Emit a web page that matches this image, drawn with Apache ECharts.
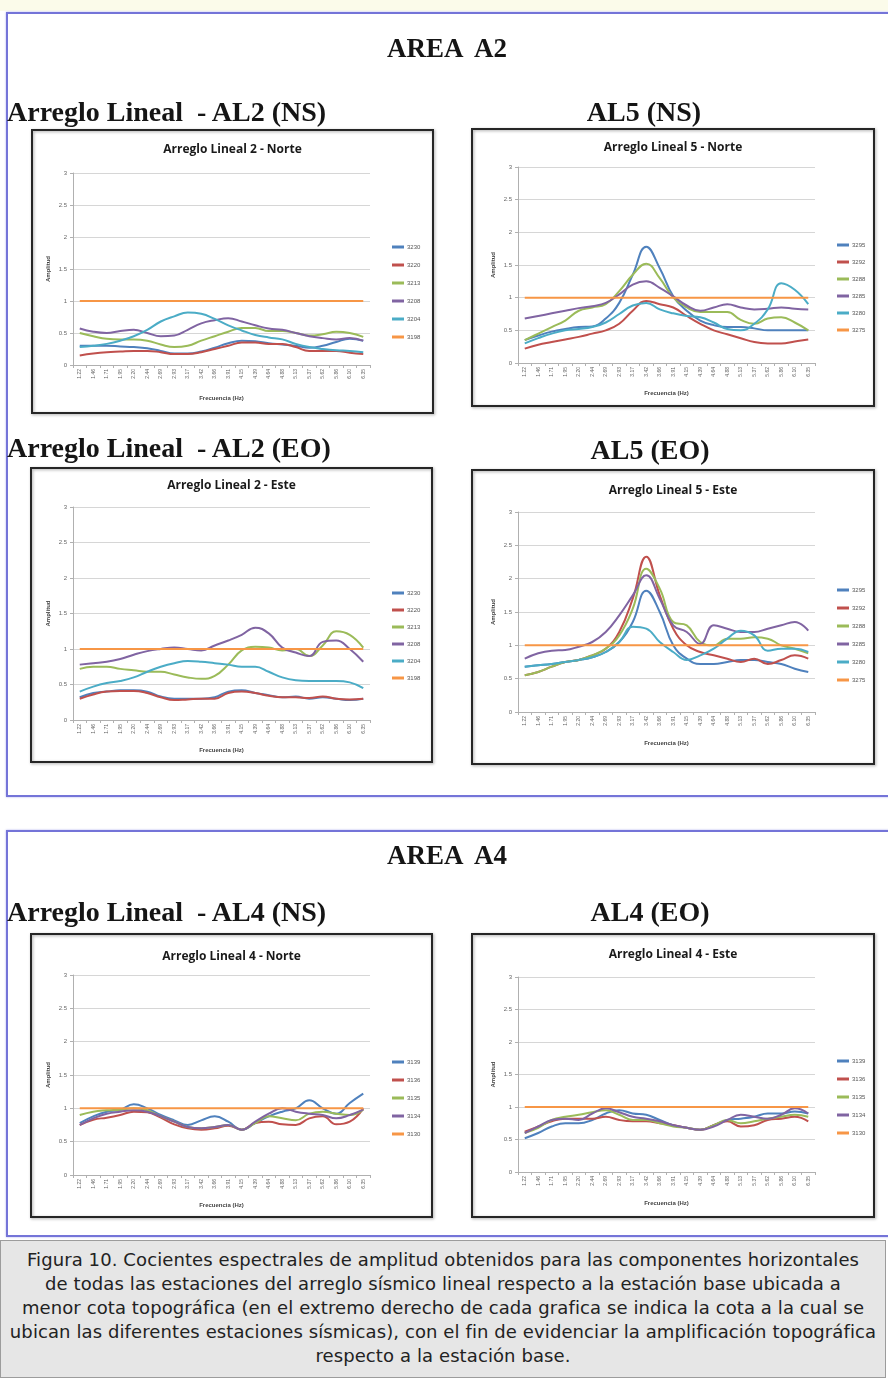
<!DOCTYPE html>
<html><head><meta charset="utf-8">
<script src="https://cdn.jsdelivr.net/npm/echarts@6/dist/echarts.min.js"></script>
<style>
body{margin:0;background:#fff;width:888px;height:1380px;overflow:hidden;position:relative}
#chart{position:absolute;left:0;top:0;width:888px;height:1380px}
.h{position:absolute;font-family:'Liberation Serif','Times New Roman',serif;font-weight:bold;color:#151515;white-space:pre;line-height:1;transform:translate(-50%,-50%)}
.hl{position:absolute;font-family:'Liberation Serif','Times New Roman',serif;font-weight:bold;color:#151515;white-space:pre;line-height:1;transform:translateY(-50%)}
.box{position:absolute;border:2px solid #7474d8;box-shadow:0 0 2px #b0b0ee}
#strip{position:absolute;left:0;top:0;width:888px;height:11px;background:#fbfbea}
#cap{position:absolute;left:0;top:1240px;width:886px;height:138px;background:#e6e6e6;border:1px solid #9c9c9c;font-family:'DejaVu Sans',sans-serif;font-size:18px;letter-spacing:0.1px;color:#222;text-align:center;line-height:24px;padding-top:7px;box-sizing:border-box;white-space:nowrap}
</style></head>
<body>
<div id="strip"></div>
<div class="box" style="left:6px;top:12px;width:900px;height:781px"></div>
<div class="box" style="left:6px;top:830px;width:900px;height:403px"></div>
<div id="chart"></div>
<div class="h" style="left:447px;top:48px;font-size:27px">AREA  A2</div>
<div class="hl" style="left:7px;top:112px;font-size:28px">Arreglo Lineal  - AL2 (NS)</div>
<div class="h" style="left:644px;top:112px;font-size:28px">AL5 (NS)</div>
<div class="hl" style="left:7px;top:448px;font-size:28px">Arreglo Lineal  - AL2 (EO)</div>
<div class="h" style="left:650px;top:450px;font-size:28px">AL5 (EO)</div>
<div class="h" style="left:447px;top:855px;font-size:27px">AREA  A4</div>
<div class="hl" style="left:7px;top:912px;font-size:28px">Arreglo Lineal  - AL4 (NS)</div>
<div class="h" style="left:650px;top:912px;font-size:28px">AL4 (EO)</div>
<div id="cap">Figura 10. Cocientes espectrales de amplitud obtenidos para las componentes horizontales<br>de todas las estaciones del arreglo sísmico lineal respecto a la estación base ubicada a<br>menor cota topográfica (en el extremo derecho de cada grafica se indica la cota a la cual se<br>ubican las diferentes estaciones sísmicas), con el fin de evidenciar la amplificación topográfica<br>respecto a la estación base.</div>
<script>
// ---- data ----
const categories = ['1.22','1.46','1.71','1.95','2.20','2.44','2.69','2.93','3.17','3.42','3.66','3.91','4.15','4.39','4.64','4.88','5.13','5.37','5.62','5.86','6.10','6.35'];
const yTicks = [0, 0.5, 1, 1.5, 2, 2.5, 3];
const colors = ['#4F81BD','#C0504D','#9BBB59','#8064A2','#4BACC6','#F79646'];

const al2Names = ['3230','3220','3213','3208','3204','3198'];
const al5Names = ['3295','3292','3288','3285','3280','3275'];
const al4Names = ['3139','3136','3135','3134','3130'];

// AL2 Norte
const n3230 = [0.30,0.30,0.30,0.29,0.28,0.26,0.22,0.18,0.18,0.21,0.27,0.34,0.38,0.37,0.34,0.32,0.30,0.27,0.30,0.36,0.41,0.38];
const n3220 = [0.15,0.18,0.20,0.21,0.22,0.22,0.20,0.17,0.17,0.20,0.25,0.30,0.35,0.35,0.33,0.33,0.28,0.22,0.22,0.22,0.19,0.17];
const n3213 = [0.50,0.45,0.41,0.40,0.40,0.38,0.32,0.28,0.30,0.38,0.45,0.52,0.58,0.58,0.53,0.53,0.50,0.46,0.48,0.52,0.50,0.44];
const n3208 = [0.57,0.52,0.50,0.53,0.55,0.50,0.45,0.46,0.55,0.65,0.70,0.73,0.68,0.62,0.57,0.55,0.50,0.45,0.42,0.40,0.42,0.38];
const n3204 = [0.28,0.30,0.33,0.38,0.45,0.55,0.68,0.76,0.82,0.80,0.72,0.62,0.54,0.47,0.43,0.40,0.33,0.28,0.25,0.23,0.22,0.20];
const n3198 = [1,1,1,1,1,1,1,1,1,1,1,1,1,1,1,1,1,1,1,1,1,1];

// AL5 Norte
const n3295 = [0.35,0.42,0.48,0.52,0.55,0.56,0.68,0.92,1.35,1.78,1.45,1.02,0.80,0.65,0.58,0.55,0.55,0.53,0.50,0.50,0.50,0.50];
const n3292 = [0.22,0.28,0.32,0.36,0.40,0.45,0.50,0.60,0.80,0.95,0.90,0.85,0.72,0.60,0.50,0.44,0.38,0.32,0.30,0.30,0.33,0.36];
const n3288 = [0.35,0.45,0.55,0.65,0.80,0.85,0.90,1.10,1.35,1.52,1.30,1.00,0.85,0.78,0.78,0.78,0.66,0.60,0.68,0.70,0.62,0.50];
const n3285 = [0.68,0.72,0.76,0.80,0.84,0.87,0.92,1.05,1.20,1.25,1.15,1.02,0.88,0.80,0.85,0.90,0.85,0.82,0.83,0.85,0.83,0.82];
const n3280 = [0.30,0.38,0.45,0.50,0.52,0.55,0.62,0.75,0.88,0.92,0.82,0.76,0.72,0.70,0.62,0.52,0.50,0.60,0.82,1.22,1.12,0.90];
const n3275 = [1,1,1,1,1,1,1,1,1,1,1,1,1,1,1,1,1,1,1,1,1,1];

// AL2 Este
const e3230 = [0.32,0.38,0.40,0.42,0.42,0.40,0.33,0.30,0.30,0.30,0.32,0.40,0.42,0.38,0.35,0.32,0.33,0.30,0.32,0.30,0.28,0.30];
const e3220 = [0.30,0.36,0.40,0.41,0.41,0.38,0.32,0.28,0.29,0.30,0.30,0.38,0.40,0.38,0.34,0.32,0.32,0.31,0.33,0.30,0.29,0.30];
const e3213 = [0.72,0.75,0.75,0.72,0.70,0.68,0.68,0.64,0.60,0.58,0.62,0.78,0.98,1.03,1.02,0.98,1.00,0.90,1.05,1.25,1.20,1.02];
const e3208 = [0.78,0.80,0.82,0.86,0.92,0.97,1.00,1.02,1.00,0.98,1.05,1.12,1.20,1.30,1.22,1.02,0.95,0.90,1.10,1.12,1.00,0.82];
const e3204 = [0.40,0.47,0.52,0.55,0.60,0.68,0.75,0.80,0.83,0.82,0.80,0.78,0.75,0.75,0.68,0.60,0.56,0.55,0.55,0.55,0.53,0.45];
const e3198 = [1,1,1,1,1,1,1,1,1,1,1,1,1,1,1,1,1,1,1,1,1,1];

// AL5 Este
const e3295 = [0.68,0.70,0.72,0.75,0.78,0.82,0.90,1.05,1.35,1.82,1.50,1.00,0.80,0.72,0.72,0.75,0.78,0.78,0.75,0.72,0.65,0.60];
const e3292 = [0.55,0.60,0.68,0.75,0.78,0.85,0.95,1.20,1.70,2.33,1.75,1.25,1.00,0.90,0.85,0.80,0.75,0.80,0.72,0.78,0.85,0.80];
const e3288 = [0.55,0.60,0.68,0.75,0.78,0.85,0.95,1.15,1.55,2.15,1.85,1.35,1.30,1.05,1.00,1.10,1.10,1.12,1.10,1.00,0.95,0.88];
const e3285 = [0.80,0.88,0.92,0.93,0.98,1.05,1.20,1.45,1.75,2.05,1.70,1.30,1.20,1.02,1.30,1.25,1.20,1.20,1.25,1.30,1.35,1.22];
const e3280 = [0.68,0.70,0.72,0.75,0.78,0.82,0.90,1.05,1.28,1.25,1.05,0.90,0.78,0.85,0.95,1.10,1.22,1.15,0.92,0.95,0.95,0.90];
const e3275 = [1,1,1,1,1,1,1,1,1,1,1,1,1,1,1,1,1,1,1,1,1,1];

// AL4 Norte
const n3139 = [0.78,0.88,0.95,0.98,1.06,1.00,0.90,0.82,0.75,0.82,0.88,0.80,0.68,0.78,0.88,0.95,1.00,1.12,1.00,0.92,1.08,1.22];
const n3136 = [0.75,0.83,0.86,0.90,0.95,0.94,0.86,0.76,0.70,0.68,0.70,0.74,0.68,0.78,0.80,0.76,0.75,0.85,0.88,0.76,0.80,1.00];
const n3135 = [0.90,0.95,0.97,0.98,1.00,0.97,0.88,0.80,0.72,0.70,0.72,0.75,0.68,0.78,0.88,0.85,0.82,0.92,0.95,0.92,0.90,0.98];
const n3134 = [0.75,0.85,0.92,0.95,0.97,0.95,0.88,0.80,0.72,0.70,0.72,0.75,0.68,0.80,0.92,1.00,0.95,0.92,0.90,0.85,0.90,0.98];
const n3130 = [1,1,1,1,1,1,1,1,1,1,1,1,1,1,1,1,1,1,1,1,1,1];

// AL4 Este
const e3139 = [0.52,0.60,0.70,0.75,0.75,0.80,0.90,0.95,0.90,0.88,0.80,0.72,0.68,0.65,0.72,0.80,0.82,0.85,0.90,0.90,0.93,0.90];
const e3136 = [0.62,0.70,0.78,0.82,0.82,0.82,0.85,0.80,0.78,0.78,0.75,0.72,0.68,0.65,0.72,0.78,0.70,0.72,0.80,0.82,0.85,0.78];
const e3135 = [0.60,0.68,0.80,0.85,0.88,0.92,0.95,0.88,0.80,0.80,0.75,0.70,0.68,0.65,0.72,0.80,0.75,0.78,0.82,0.85,0.88,0.85];
const e3134 = [0.60,0.70,0.80,0.82,0.80,0.90,0.98,0.92,0.85,0.82,0.78,0.72,0.68,0.65,0.70,0.80,0.88,0.85,0.82,0.88,0.98,0.90];
const e3130 = [1,1,1,1,1,1,1,1,1,1,1,1,1,1,1,1,1,1,1,1,1,1];

// ---- layout ----
const panels = [
  {title:'Arreglo Lineal 2 - Norte', box:[32,130,401,283], grid:[73,173,297,192], ty:150, lg:[387,238,10], names:al2Names, data:[n3230,n3220,n3213,n3208,n3204,n3198], xn:30},
  {title:'Arreglo Lineal 5 - Norte', box:[472,129,402,277], grid:[518,167,297,196], ty:148, lg:[832,236,9], names:al5Names, data:[n3295,n3292,n3288,n3285,n3280,n3275], xn:27},
  {title:'Arreglo Lineal 2 - Este', box:[31,468,401,294], grid:[73,507,297,213], ty:486, lg:[387,584,9], names:al2Names, data:[e3230,e3220,e3213,e3208,e3204,e3198], xn:27},
  {title:'Arreglo Lineal 5 - Este', box:[472,470,402,294], grid:[518,512,297,200], ty:491, lg:[832,581,10], names:al5Names, data:[e3295,e3292,e3288,e3285,e3280,e3275], xn:28},
  {title:'Arreglo Lineal 4 - Norte', box:[31,934,401,283], grid:[73,975,297,200], ty:957, lg:[387,1053,10], names:al4Names, data:[n3139,n3136,n3135,n3134,n3130], xn:27},
  {title:'Arreglo Lineal 4 - Este', box:[472,934,402,283], grid:[518,977,297,195], ty:955, lg:[832,1052,10], names:al4Names, data:[e3139,e3136,e3135,e3134,e3130], xn:28}
];

const chart = echarts.init(document.getElementById('chart'), null, {renderer:'canvas'});
const grids=[], xAxes=[], yAxes=[], series=[], legends=[], graphics=[];
panels.forEach((p,i)=>{
  grids.push({left:p.grid[0], top:p.grid[1], width:p.grid[2], height:p.grid[3], containLabel:false});
  xAxes.push({type:'category', gridIndex:i, data:categories, boundaryGap:true,
    name:'Frecuencia (Hz)', nameLocation:'middle', nameGap:p.xn,
    nameTextStyle:{fontSize:6, fontWeight:'bold', color:'#444', fontFamily:'Liberation Sans'},
    axisLine:{lineStyle:{color:'#b0b0b0'}}, axisTick:{show:true, length:3, lineStyle:{color:'#b0b0b0'}},
    axisLabel:{rotate:90, interval:0, fontSize:5, color:'#666', margin:4, fontFamily:'Liberation Sans'},
    splitLine:{show:false}});
  yAxes.push({type:'value', gridIndex:i, min:yTicks[0], max:yTicks[yTicks.length-1], interval:0.5,
    name:'Amplitud', nameLocation:'middle', nameGap:22, nameRotate:90,
    nameTextStyle:{fontSize:6, fontWeight:'bold', color:'#444', fontFamily:'Liberation Sans'},
    axisLine:{show:true, lineStyle:{color:'#b0b0b0'}}, axisTick:{show:true, length:3, lineStyle:{color:'#b0b0b0'}},
    axisLabel:{fontSize:6, color:'#666', margin:6, fontFamily:'Liberation Sans'},
    splitLine:{lineStyle:{color:'#d6d6d6', width:1}}});
  p.names.forEach((nm,k)=>{
    const isBase = k===p.names.length-1;
    series.push({type:'line', name:nm, xAxisIndex:i, yAxisIndex:i, data:p.data[k],
      smooth:isBase?false:0.45, symbol:'none', silent:true,
      color: isBase ? colors[5] : colors[k],
      lineStyle:{width:2, color: isBase ? colors[5] : colors[k]},
      z: isBase ? 3 : 2});
  });
  legends.push({orient:'vertical', left:p.lg[0], top:p.lg[1], itemGap:p.lg[2],
    itemWidth:12, itemHeight:3, icon:'rect', data:p.names.slice(), selectedMode:false,
    textStyle:{fontSize:6, color:'#555', lineHeight:8, padding:[0,0,0,-2], fontFamily:'Liberation Sans'}});
  graphics.push({type:'rect', shape:{x:p.box[0], y:p.box[1], width:p.box[2], height:p.box[3]},
    style:{fill:'rgba(0,0,0,0)', stroke:'#262626', lineWidth:2, shadowBlur:3, shadowColor:'rgba(0,0,0,0.35)', shadowOffsetX:1, shadowOffsetY:1}, silent:true});
  graphics.push({type:'text', x:p.box[0]+p.box[2]/2, y:p.ty,
    style:{text:p.title, fill:'#1a1a1a', font:'bold 12px "Open Sans", sans-serif', textAlign:'center', textVerticalAlign:'middle'}, silent:true});
});

chart.setOption({
  animation:false,
  grid:grids, xAxis:xAxes, yAxis:yAxes, series:series, legend:legends,
  graphic:{elements:graphics}
});
</script>
</body></html>
